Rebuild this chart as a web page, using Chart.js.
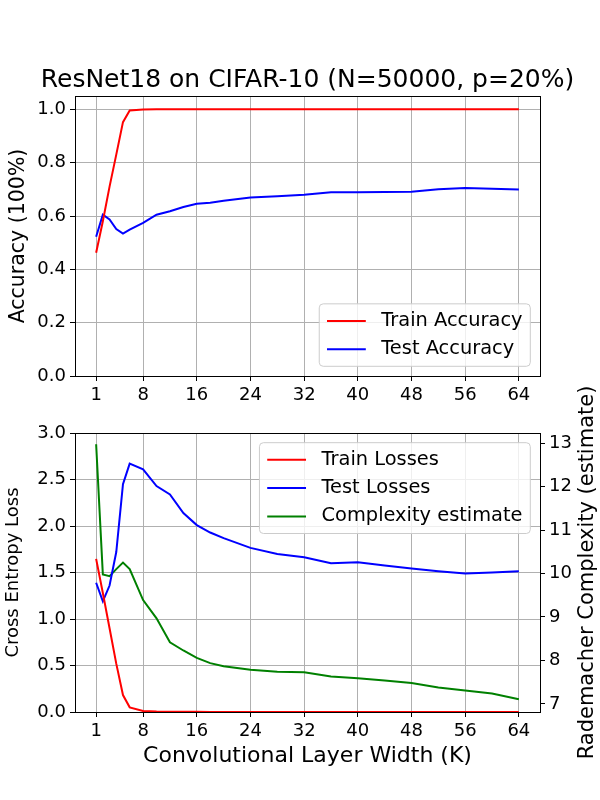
<!DOCTYPE html>
<html>
<head>
<meta charset="utf-8">
<script src="https://cdn.jsdelivr.net/npm/chart.js@4.4.1/dist/chart.umd.min.js"></script>
<style>
  body { margin: 0; background: #fff; }
  #wrap { position: relative; width: 600px; height: 800px; }
  canvas { position: absolute; left: 0; top: 0; }
</style>
</head>
<body>
<div id="wrap">
  <canvas id="accChart" width="600" height="800"></canvas>
  <canvas id="lossChart" width="600" height="800"></canvas>
</div>
<script>
// widths K that were trained
const widths = [1, 2, 3, 4, 5, 6, 8, 10, 12, 14, 16, 18, 20, 24, 28, 32, 36, 40, 44, 48, 52, 56, 60, 64];

const trainAcc = [0.462, 0.58, 0.71, 0.83, 0.952, 0.996, 0.999, 1.0, 1.0, 1.0, 1.0, 1.0,
                  1.0, 1.0, 1.0, 1.0, 1.0, 1.0, 1.0, 1.0, 1.0, 1.0, 1.0, 1.0];
const testAcc = [0.522, 0.605, 0.587, 0.551, 0.534, 0.549, 0.574, 0.605, 0.618, 0.634, 0.646, 0.650,
                 0.657, 0.669, 0.674, 0.680, 0.689, 0.689, 0.690, 0.691, 0.700, 0.705, 0.702, 0.699];

const trainLoss = [1.647, 1.28, 0.90, 0.52, 0.182, 0.05, 0.012, 0.005, 0.003, 0.002, 0.002, 0.001,
                   0.001, 0.001, 0.001, 0.001, 0.001, 0.001, 0.001, 0.001, 0.001, 0.001, 0.001, 0.001];
const testLoss = [1.39, 1.19, 1.36, 1.72, 2.45, 2.67, 2.61, 2.43, 2.34, 2.14, 2.01, 1.93,
                  1.87, 1.765, 1.70, 1.665, 1.60, 1.61, 1.575, 1.543, 1.514, 1.49, 1.50, 1.514];
const complexity = [12.97, 9.98, 9.94, 10.10, 10.25, 10.10, 9.39, 8.97, 8.42, 8.23, 8.06, 7.94,
                    7.87, 7.79, 7.74, 7.73, 7.63, 7.59, 7.54, 7.48, 7.38, 7.31, 7.24, 7.11];

const xTicks = [1, 8, 16, 24, 32, 40, 48, 56, 64];
const accTicks = [0, 0.2, 0.4, 0.6, 0.8, 1.0];
const lossTicks = [0, 0.5, 1.0, 1.5, 2.0, 2.5, 3.0];
const complexityTicks = [7, 8, 9, 10, 11, 12, 13];

const FONT = 'DejaVu Sans';
Chart.defaults.font.family = FONT;
Chart.defaults.color = '#000';

const pts = ys => ys.map((y, i) => ({ x: widths[i], y: y }));

// force axis boxes to fixed sizes so plot areas sit where the figure has them
const fixWidth = w => scale => { scale.width = w; };
const fixHeight = h => scale => { scale.height = h; };
const setTicks = vals => scale => { scale.ticks = vals.map(v => ({ value: v })); };

const tickFont = { size: 18 };
const gridStyle = { color: '#b0b0b0', lineWidth: 1, tickColor: '#000', tickLength: 5 };

// black box round the plot area (matplotlib spines)
const frame = {
  id: 'frame',
  afterDatasetsDraw(chart) {
    const { ctx, chartArea: a } = chart;
    ctx.save();
    ctx.strokeStyle = '#000';
    ctx.lineWidth = 1;
    ctx.strokeRect(Math.round(a.left) + 0.5, Math.round(a.top) + 0.5,
                   Math.round(a.right - a.left), Math.round(a.bottom - a.top));
    ctx.restore();
  }
};

// free text: figure title and the right-hand axis label (reads bottom to top)
const freeText = {
  id: 'freeText',
  afterDraw(chart, args, opts) {
    const ctx = chart.ctx;
    (opts.items || []).forEach(t => {
      ctx.save();
      ctx.font = t.size + 'px ' + FONT;
      ctx.fillStyle = '#000';
      ctx.textAlign = 'center';
      ctx.textBaseline = 'middle';
      ctx.translate(t.x, t.y);
      if (t.rotate) ctx.rotate(t.rotate);
      ctx.fillText(t.text, 0, 0);
      ctx.restore();
    });
  }
};

// legend drawn inside the axes like matplotlib's
const boxLegend = {
  id: 'boxLegend',
  afterDraw(chart, args, opts) {
    if (!opts.corner) return;
    const { ctx, chartArea: a } = chart;
    const fs = opts.size;
    const items = chart.data.datasets;
    ctx.save();
    ctx.font = fs + 'px ' + FONT;
    const textW = Math.max(...items.map(d => ctx.measureText(d.label).width));
    const pad = 0.4 * fs, handle = 2 * fs, gap = 0.8 * fs, rowH = 0.96 * fs, space = 0.5 * fs;
    const w = pad * 2 + handle + gap + textW;
    const h = pad * 2 + items.length * rowH + (items.length - 1) * space;
    const x = a.right - 0.5 * fs - w;
    const y = opts.corner === 'top' ? a.top + 0.5 * fs : a.bottom - 0.5 * fs - h;
    ctx.beginPath();
    ctx.roundRect(x, y, w, h, 4);
    ctx.fillStyle = 'rgba(255,255,255,0.8)';
    ctx.fill();
    ctx.strokeStyle = '#cccccc';
    ctx.lineWidth = 1;
    ctx.stroke();
    items.forEach((d, i) => {
      const cy = y + pad + i * (rowH + space) + rowH / 2;
      ctx.beginPath();
      ctx.strokeStyle = d.borderColor;
      ctx.lineWidth = 2;
      ctx.moveTo(x + pad, cy);
      ctx.lineTo(x + pad + handle, cy);
      ctx.stroke();
      ctx.fillStyle = '#000';
      ctx.textBaseline = 'middle';
      ctx.fillText(d.label, x + pad + handle + gap, cy);
    });
    ctx.restore();
  }
};

const line = (label, data, color, axis) => ({
  label: label, data: pts(data), borderColor: color, backgroundColor: color,
  borderWidth: 2, pointRadius: 0, tension: 0, fill: false, yAxisID: axis || 'y'
});

const xScale = (height, title) => ({
  type: 'linear', min: -2.15, max: 67.15, bounds: 'data',
  afterBuildTicks: setTicks(xTicks), afterFit: fixHeight(height),
  ticks: { font: tickFont, padding: 4, autoSkip: false, maxRotation: 0, callback: v => String(v) },
  grid: gridStyle, border: { display: false },
  title: title ? { display: true, text: title, font: { size: 22 }, padding: 31 } : { display: false }
});

new Chart(document.getElementById('accChart'), {
  type: 'line',
  data: {
    datasets: [
      line('Train Accuracy', trainAcc, '#ff0000'),
      line('Test Accuracy', testAcc, '#0000ff')
    ]
  },
  options: {
    responsive: false, animation: false, devicePixelRatio: 1, events: [],
    layout: { padding: { top: 96, right: 60, bottom: 384, left: 0 } },
    plugins: {
      legend: { display: false }, tooltip: { enabled: false },
      boxLegend: { corner: 'bottom', size: 19.4 },
      freeText: { items: [{ text: 'ResNet18 on CIFAR-10 (N=50000, p=20%)', x: 307.5, y: 80, size: 25 }] }
    },
    scales: {
      x: xScale(40),
      y: {
        min: 0, max: 1.05, bounds: 'data',
        afterBuildTicks: setTicks(accTicks), afterFit: fixWidth(75),
        ticks: { font: tickFont, padding: 4, callback: v => v.toFixed(1) },
        grid: gridStyle, border: { display: false },
        title: { display: true, text: 'Accuracy (100%)', font: { size: 20.5 }, padding: 6 }
      }
    }
  },
  plugins: [frame, freeText, boxLegend]
});

new Chart(document.getElementById('lossChart'), {
  type: 'line',
  data: {
    datasets: [
      line('Train Losses', trainLoss, '#ff0000'),
      line('Test Losses', testLoss, '#0000ff'),
      line('Complexity estimate', complexity, '#008000', 'y2')
    ]
  },
  options: {
    responsive: false, animation: false, devicePixelRatio: 1, events: [],
    layout: { padding: { top: 433, right: 0, bottom: 0, left: 0 } },
    plugins: {
      legend: { display: false }, tooltip: { enabled: false },
      boxLegend: { corner: 'top', size: 19.4 },
      freeText: { items: [{ text: 'Rademacher Complexity (estimate)', x: 588, y: 572.5, size: 21, rotate: -Math.PI / 2 }] }
    },
    scales: {
      x: xScale(88, 'Convolutional Layer Width (K)'),
      y: {
        position: 'left', min: 0, max: 3, bounds: 'data',
        afterBuildTicks: setTicks(lossTicks), afterFit: fixWidth(75),
        ticks: { font: tickFont, padding: 4, callback: v => v.toFixed(1) },
        grid: gridStyle, border: { display: false },
        title: { display: true, text: 'Cross Entropy Loss', font: { size: 18 }, padding: 3 }
      },
      y2: {
        position: 'right', min: 6.816, max: 13.23, bounds: 'data',
        afterBuildTicks: setTicks(complexityTicks), afterFit: fixWidth(60),
        ticks: { font: tickFont, padding: 4, callback: v => String(v) },
        grid: { drawOnChartArea: false, tickColor: '#000', tickLength: 5 }, border: { display: false }
      }
    }
  },
  plugins: [frame, freeText, boxLegend]
});
</script>
</body>
</html>
